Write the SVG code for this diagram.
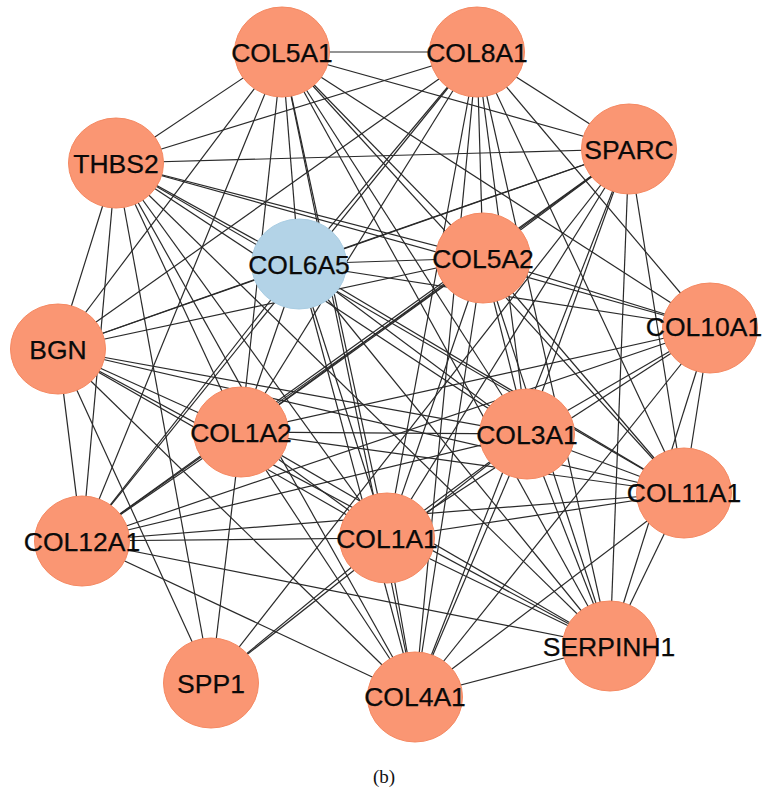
<svg xmlns="http://www.w3.org/2000/svg" width="765" height="790" viewBox="0 0 765 790">
<style>
.e line{stroke:#2a2a2a;stroke-width:1.2}
.n ellipse{fill:#FA9673;stroke:#F58962;stroke-width:1}
.n.blue ellipse{fill:#B3D3E7;stroke:#A9CDE3}
.n text{font-family:"Liberation Sans",Arial,sans-serif;font-size:26.5px;fill:#0a0a0a;stroke:#0a0a0a;stroke-width:0.25;text-anchor:middle}
.cap{font-family:"Liberation Serif","Times New Roman",serif;font-size:19px;fill:#111;text-anchor:middle}
</style>
<rect width="765" height="790" fill="#fff"/>
<g id="edges" class="e">
<line x1="282" y1="52" x2="477" y2="52"/>
<line x1="282" y1="52" x2="116" y2="163"/>
<line x1="282" y1="52" x2="629" y2="149"/>
<line x1="282" y1="52" x2="299" y2="264"/>
<line x1="282" y1="52" x2="483" y2="258"/>
<line x1="282" y1="52" x2="58" y2="349"/>
<line x1="282" y1="52" x2="710" y2="328"/>
<line x1="282" y1="52" x2="241" y2="432"/>
<line x1="282" y1="52" x2="527" y2="434"/>
<line x1="282" y1="52" x2="684" y2="493"/>
<line x1="282" y1="52" x2="82" y2="541"/>
<line x1="282" y1="52" x2="387" y2="538"/>
<line x1="282" y1="52" x2="610" y2="646"/>
<line x1="282" y1="52" x2="415" y2="697"/>
<line x1="477" y1="52" x2="116" y2="163"/>
<line x1="477" y1="52" x2="629" y2="149"/>
<line x1="477" y1="52" x2="299" y2="264"/>
<line x1="477" y1="52" x2="483" y2="258"/>
<line x1="477" y1="52" x2="58" y2="349"/>
<line x1="477" y1="52" x2="710" y2="328"/>
<line x1="477" y1="52" x2="241" y2="432"/>
<line x1="477" y1="52" x2="527" y2="434"/>
<line x1="477" y1="52" x2="684" y2="493"/>
<line x1="477" y1="52" x2="82" y2="541"/>
<line x1="477" y1="52" x2="387" y2="538"/>
<line x1="477" y1="52" x2="610" y2="646"/>
<line x1="477" y1="52" x2="415" y2="697"/>
<line x1="116" y1="163" x2="629" y2="149"/>
<line x1="116" y1="163" x2="299" y2="264"/>
<line x1="116" y1="163" x2="483" y2="258"/>
<line x1="116" y1="163" x2="58" y2="349"/>
<line x1="116" y1="163" x2="710" y2="328"/>
<line x1="116" y1="163" x2="241" y2="432"/>
<line x1="116" y1="163" x2="527" y2="434"/>
<line x1="116" y1="163" x2="684" y2="493"/>
<line x1="116" y1="163" x2="82" y2="541"/>
<line x1="116" y1="163" x2="387" y2="538"/>
<line x1="116" y1="163" x2="610" y2="646"/>
<line x1="116" y1="163" x2="415" y2="697"/>
<line x1="116" y1="163" x2="211" y2="683"/>
<line x1="629" y1="149" x2="299" y2="264"/>
<line x1="629" y1="149" x2="483" y2="258"/>
<line x1="629" y1="149" x2="58" y2="349"/>
<line x1="629" y1="149" x2="241" y2="432"/>
<line x1="629" y1="149" x2="527" y2="434"/>
<line x1="629" y1="149" x2="684" y2="493"/>
<line x1="629" y1="149" x2="82" y2="541"/>
<line x1="629" y1="149" x2="387" y2="538"/>
<line x1="629" y1="149" x2="610" y2="646"/>
<line x1="629" y1="149" x2="415" y2="697"/>
<line x1="629" y1="149" x2="211" y2="683"/>
<line x1="299" y1="264" x2="483" y2="258"/>
<line x1="299" y1="264" x2="58" y2="349"/>
<line x1="299" y1="264" x2="710" y2="328"/>
<line x1="299" y1="264" x2="241" y2="432"/>
<line x1="299" y1="264" x2="527" y2="434"/>
<line x1="299" y1="264" x2="684" y2="493"/>
<line x1="299" y1="264" x2="82" y2="541"/>
<line x1="299" y1="264" x2="387" y2="538"/>
<line x1="299" y1="264" x2="610" y2="646"/>
<line x1="299" y1="264" x2="415" y2="697"/>
<line x1="483" y1="258" x2="58" y2="349"/>
<line x1="483" y1="258" x2="710" y2="328"/>
<line x1="483" y1="258" x2="241" y2="432"/>
<line x1="483" y1="258" x2="527" y2="434"/>
<line x1="483" y1="258" x2="684" y2="493"/>
<line x1="483" y1="258" x2="82" y2="541"/>
<line x1="483" y1="258" x2="387" y2="538"/>
<line x1="483" y1="258" x2="610" y2="646"/>
<line x1="483" y1="258" x2="415" y2="697"/>
<line x1="58" y1="349" x2="241" y2="432"/>
<line x1="58" y1="349" x2="527" y2="434"/>
<line x1="58" y1="349" x2="684" y2="493"/>
<line x1="58" y1="349" x2="82" y2="541"/>
<line x1="58" y1="349" x2="387" y2="538"/>
<line x1="58" y1="349" x2="610" y2="646"/>
<line x1="58" y1="349" x2="415" y2="697"/>
<line x1="58" y1="349" x2="211" y2="683"/>
<line x1="710" y1="328" x2="241" y2="432"/>
<line x1="710" y1="328" x2="527" y2="434"/>
<line x1="710" y1="328" x2="684" y2="493"/>
<line x1="710" y1="328" x2="82" y2="541"/>
<line x1="710" y1="328" x2="387" y2="538"/>
<line x1="710" y1="328" x2="610" y2="646"/>
<line x1="710" y1="328" x2="415" y2="697"/>
<line x1="241" y1="432" x2="527" y2="434"/>
<line x1="241" y1="432" x2="684" y2="493"/>
<line x1="241" y1="432" x2="82" y2="541"/>
<line x1="241" y1="432" x2="387" y2="538"/>
<line x1="241" y1="432" x2="610" y2="646"/>
<line x1="241" y1="432" x2="415" y2="697"/>
<line x1="241" y1="432" x2="211" y2="683"/>
<line x1="527" y1="434" x2="684" y2="493"/>
<line x1="527" y1="434" x2="82" y2="541"/>
<line x1="527" y1="434" x2="387" y2="538"/>
<line x1="527" y1="434" x2="610" y2="646"/>
<line x1="527" y1="434" x2="415" y2="697"/>
<line x1="527" y1="434" x2="211" y2="683"/>
<line x1="684" y1="493" x2="82" y2="541"/>
<line x1="684" y1="493" x2="387" y2="538"/>
<line x1="684" y1="493" x2="610" y2="646"/>
<line x1="684" y1="493" x2="415" y2="697"/>
<line x1="82" y1="541" x2="387" y2="538"/>
<line x1="82" y1="541" x2="610" y2="646"/>
<line x1="82" y1="541" x2="415" y2="697"/>
<line x1="387" y1="538" x2="610" y2="646"/>
<line x1="387" y1="538" x2="415" y2="697"/>
<line x1="387" y1="538" x2="211" y2="683"/>
<line x1="610" y1="646" x2="415" y2="697"/>
</g>
<g id="COL5A1" class="n"><ellipse cx="282" cy="52" rx="47.5" ry="45"/><text x="282" y="61.5">COL5A1</text></g>
<g id="COL8A1" class="n"><ellipse cx="477" cy="52" rx="47.5" ry="45"/><text x="477" y="61.5">COL8A1</text></g>
<g id="THBS2" class="n"><ellipse cx="116" cy="163" rx="47.5" ry="45"/><text x="116" y="172.5">THBS2</text></g>
<g id="SPARC" class="n"><ellipse cx="629" cy="149" rx="47.5" ry="45"/><text x="629" y="158.5">SPARC</text></g>
<g id="COL6A5" class="n blue"><ellipse cx="299" cy="264" rx="47.5" ry="45"/><text x="299" y="273.5">COL6A5</text></g>
<g id="COL5A2" class="n"><ellipse cx="483" cy="258" rx="47.5" ry="45"/><text x="483" y="267.5">COL5A2</text></g>
<g id="BGN" class="n"><ellipse cx="58" cy="349" rx="47.5" ry="45"/><text x="58" y="358.5">BGN</text></g>
<g id="COL10A1" class="n"><ellipse cx="710" cy="328" rx="47.5" ry="45"/><text x="704" y="336">COL10A1</text></g>
<g id="COL1A2" class="n"><ellipse cx="241" cy="432" rx="47.5" ry="45"/><text x="241" y="441.5">COL1A2</text></g>
<g id="COL3A1" class="n"><ellipse cx="527" cy="434" rx="47.5" ry="45"/><text x="527" y="443.5">COL3A1</text></g>
<g id="COL11A1" class="n"><ellipse cx="684" cy="493" rx="47.5" ry="45"/><text x="684" y="502">COL11A1</text></g>
<g id="COL12A1" class="n"><ellipse cx="82" cy="541" rx="47.5" ry="45"/><text x="82" y="550.5">COL12A1</text></g>
<g id="COL1A1" class="n"><ellipse cx="387" cy="538" rx="47.5" ry="45"/><text x="387" y="547.5">COL1A1</text></g>
<g id="SERPINH1" class="n"><ellipse cx="610" cy="646" rx="47.5" ry="45"/><text x="609" y="655.5">SERPINH1</text></g>
<g id="SPP1" class="n"><ellipse cx="211" cy="683" rx="47.5" ry="45"/><text x="211" y="692.5">SPP1</text></g>
<g id="COL4A1" class="n"><ellipse cx="415" cy="697" rx="47.5" ry="45"/><text x="415" y="706">COL4A1</text></g>
<text class="cap" x="384" y="783">(b)</text>
</svg>
